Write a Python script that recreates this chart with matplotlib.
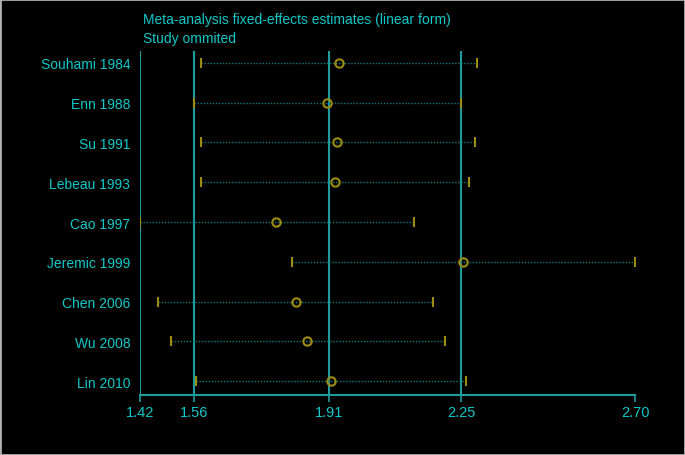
import matplotlib
matplotlib.use("Agg")
import matplotlib.pyplot as plt
from matplotlib.patches import Rectangle

studies = ["Souhami 1984", "Enn 1988", "Su 1991", "Lebeau 1993", "Cao 1997",
           "Jeremic 1999", "Chen 2006", "Wu 2008", "Lin 2010"]
estimate = [1.934, 1.904, 1.930, 1.923, 1.772, 2.255, 1.823, 1.853, 1.914]
lower = [1.578, 1.560, 1.578, 1.577, 1.420, 1.814, 1.466, 1.500, 1.564]
upper = [2.291, 2.250, 2.285, 2.272, 2.128, 2.700, 2.178, 2.208, 2.264]
ref_lines = [1.42, 1.56, 1.91, 2.25]
xticks = [1.42, 1.56, 1.91, 2.25, 2.70]
xticklabels = ["1.42", "1.56", "1.91", "2.25", "2.70"]
title_lines = ["Meta-analysis fixed-effects estimates (linear form)", "Study ommited"]

plt.rcParams['font.family'] = ['Liberation Sans', 'DejaVu Sans']

cyan = "#10C8C8"
teal = "#1E9C9C"
olive = "#9C8C10"
dot = "#157878"

fig = plt.figure(figsize=(6.85, 4.56), dpi=100, facecolor="black")
ax = fig.add_axes([140/685, 1-396/456, (635-140)/685, (396-52)/456])
ax.set_facecolor("black")

for v in ref_lines:
    ax.axvline(v, color=teal, lw=1.5, zorder=1)

ys = list(range(len(studies)))
for y, lo, hi, est in zip(ys, lower, upper, estimate):
    ax.plot([lo, hi], [y, y], color=dot, lw=1.0, ls=(0, (1, 1.2)), zorder=2)
    ax.plot([lo, hi], [y, y], ls="none", marker="|", ms=7.5, mew=1.5, color=olive, zorder=3)
ax.plot(estimate, ys, ls="none", marker="o", ms=6, mfc="none", mec=olive, mew=1.5, zorder=4)

ax.set_xlim(1.42, 2.70)
ax.set_ylim(8.35, -0.30)
ax.set_yticks(ys)
ax.set_yticklabels(studies, color=cyan, fontsize=10)
ax.tick_params(axis="y", length=0, pad=7)
ax.set_xticks(xticks)
ax.set_xticklabels(xticklabels, color=cyan, fontsize=10.5)
ax.tick_params(axis="x", colors=teal, labelcolor=cyan, length=5, width=1.2, direction="out", pad=2)
for s in ["top", "right", "left"]:
    ax.spines[s].set_visible(False)
ax.spines["bottom"].set_color(teal)
ax.spines["bottom"].set_linewidth(1.5)

fig.text(143/685, 1-20/456, title_lines[0], color=cyan, fontsize=10, va="center", ha="left")
fig.text(143/685, 1-39/456, title_lines[1], color=cyan, fontsize=10, va="center", ha="left")

fig.patches.append(Rectangle((0, 0), 1, 1, transform=fig.transFigure, fill=False,
                             edgecolor="#B0B0B0", lw=2))

fig.savefig("out.png", dpi=100, facecolor="black")
